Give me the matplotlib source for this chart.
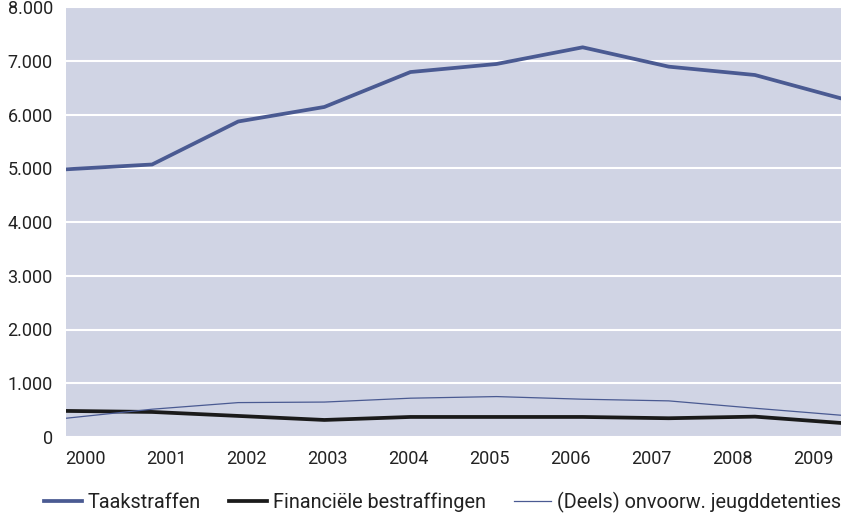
import matplotlib.pyplot as plt
from matplotlib.ticker import FuncFormatter
import numpy as np

# Data
years = ['2000', '2001', '2002', '2003', '2004', '2005', '2006', '2007', '2008', '2009']
taakstraffen = [4980, 5070, 5870, 6140, 6790, 6940, 7250, 6890, 6735, 6300]
financieel = [485, 466, 392, 317, 373, 373, 373, 349, 379, 261]
jeugddetenties = [349, 517, 640, 650, 722, 752, 703, 672, 535, 405]

plt.rcParams['font.family'] = ['Roboto', 'DejaVu Sans']
text_color = '#222222'

fig = plt.figure(figsize=(8.5, 5.16), dpi=100)
ax = fig.add_axes([66 / 850, 79 / 516, 775 / 850, 430 / 516])
ax.set_facecolor('#d0d4e4')

x = np.arange(len(years))
ax.plot(x, taakstraffen, color='#4a5a92', linewidth=2.7, label='Taakstraffen', zorder=3)
ax.plot(x, financieel, color='#1a1a1a', linewidth=2.7, label='Financiële bestraffingen', zorder=3)
ax.plot(x, jeugddetenties, color='#4a5a92', linewidth=0.9,
        label='(Deels) onvoorw. jeugddetenties', zorder=3)

ax.set_xlim(0, len(years) - 1)
ax.set_ylim(0, 8000)
ax.set_yticks(range(0, 8001, 1000))
ax.yaxis.set_major_formatter(FuncFormatter(lambda v, p: f"{int(v):,}".replace(',', '.')))
ax.grid(axis='y', color='white', linewidth=1.5, zorder=1)
ax.set_axisbelow(True)

# year labels sit slightly off the data points, as in the original
label_pos = 0.22 + x * 0.94
ax.set_xticks(label_pos)
ax.set_xticklabels(years)

ax.tick_params(axis='both', length=0, labelsize=13, labelcolor=text_color)
ax.tick_params(axis='y', pad=9.5)
ax.tick_params(axis='x', pad=9)
for s in ax.spines.values():
    s.set_visible(False)

fig.legend(loc='center', bbox_to_anchor=(0.521, 0.026), ncol=3, frameon=False,
           fontsize=14.3, handlelength=1.9, handletextpad=0.3, columnspacing=1.4,
           labelcolor=text_color, borderaxespad=0)

fig.savefig('out.png', dpi=100)
